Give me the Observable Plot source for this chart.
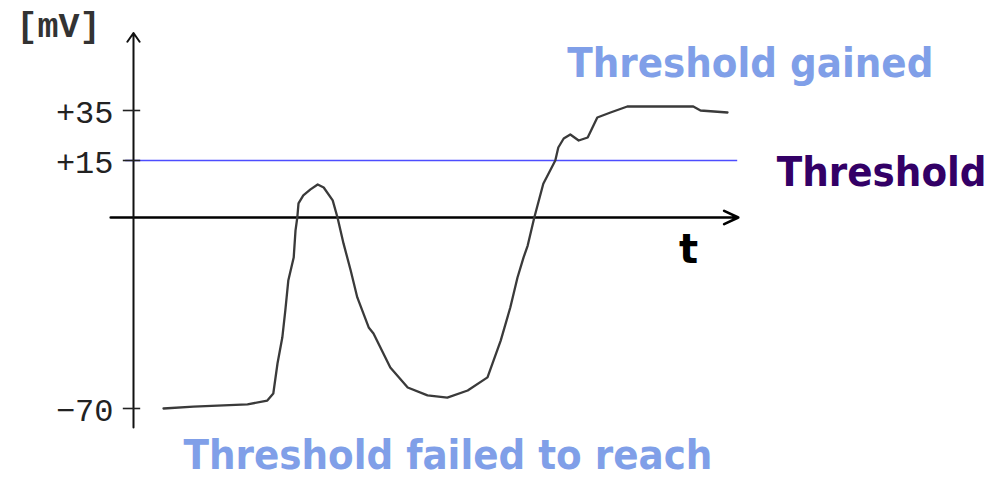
<!DOCTYPE html>
<html>
<head>
<meta charset="utf-8">
<script src="https://cdn.jsdelivr.net/npm/d3@7"></script>
<script src="https://cdn.jsdelivr.net/npm/@observablehq/plot@0.6"></script>
<style>
  html, body { margin: 0; padding: 0; background: #fff; }
  #chart svg { display: block; }
</style>
</head>
<body>
<div id="chart"></div>
<script>
// Membrane potential trace: time (arbitrary units) and voltage (mV)
const times = [5.0, 10.0, 19.0, 22.3, 23.3, 24.0, 24.8, 25.3, 25.8, 26.7, 27.0, 27.3, 27.5, 28.3, 29.5, 30.7, 31.7, 33.2, 34.0, 35.0, 36.2, 37.3, 39.2, 40.0, 42.8, 45.7, 49.0, 52.3, 55.7, 59.0, 61.2, 62.8, 64.0, 65.0, 65.7, 66.8, 68.3, 70.3, 70.8, 71.7, 72.8, 74.2, 75.7, 77.3, 79.5, 82.3, 93.3, 94.5, 99.0];
const volts = [-70, -69.3, -68.5, -67.1, -64.5, -53.5, -44.0, -34.1, -23.1, -14.7, -4.8, 0, 3.7, 5.8, 7.4, 8.7, 7.9, 4.5, 0, -9.5, -19.4, -29.3, -40.3, -42.5, -55.0, -62.3, -65.2, -66.0, -63.4, -58.6, -45.1, -33.0, -22.0, -14.7, -10.3, 0, 8.9, 15, 20.2, 23.8, 25.4, 23.0, 24.2, 32.2, 34.2, 36.6, 36.6, 35.0, 34.2];

// Axis ticks and labels
const yTicks = [35, 15, -70];
const yTickLabels = ["+35", "+15", "\u221270"];
const yUnit = "[mV]";
const tLabel = "t";

// Threshold
const thresholdValue = 15;
const thresholdLabel = "Threshold";

// Axes extents
const tAxisExtent = [-3.8, 100.8];
const vAxisExtent = [-77, 66];
const thresholdExtent = [-1.3, 100.7];

// Annotations
const annotations = [
  {t: 102.8, v: 53.6, text: "Threshold gained", color: "#809fe8"},
  {t: 124.7, v: 11.8, text: thresholdLabel, color: "#330066"},
  {t: 52.4, v: -87.3, text: "Threshold failed to reach", color: "#809fe8"}
];

const trace = times.map((t, i) => ({t, v: volts[i]}));
const boldFont = "'DejaVu Sans Condensed', 'DejaVu Sans', sans-serif";

const chart = Plot.plot({
  width: 989,
  height: 478,
  margin: 0,
  style: {background: "white", overflow: "visible"},
  x: {type: "linear", domain: [0, 100], range: [133, 733], axis: null},
  y: {type: "linear", domain: [-70, 0, 15, 35], range: [408, 217, 160, 110], axis: null},
  marks: [
    // threshold line
    Plot.ruleY([thresholdValue], {x1: thresholdExtent[0], x2: thresholdExtent[1], stroke: "#4d4dff", strokeWidth: 1.6}),
    // time axis with arrow
    Plot.arrow([0], {x1: tAxisExtent[0], x2: tAxisExtent[1], y1: 0, y2: 0, stroke: "#000", strokeWidth: 2.6, headLength: 9, headAngle: 50}),
    // voltage axis with arrow
    Plot.arrow([0], {x1: 0, x2: 0, y1: vAxisExtent[0], y2: vAxisExtent[1], stroke: "#111", strokeWidth: 2, headLength: 8, headAngle: 70}),
    // ticks
    Plot.ruleY(yTicks, {y: d => d, x1: -1.7, x2: 1.2, stroke: "#222", strokeWidth: 1.6}),
    // tick labels
    Plot.text(yTicks, {x: 0, y: d => d, text: (d, i) => yTickLabels[i], textAnchor: "end", dx: -20, dy: 2, fontSize: 32, fontFamily: "'Liberation Mono', monospace", fill: "#222"}),
    // unit label
    Plot.text([yUnit], {x: -5.5, y: 69, text: d => d, textAnchor: "end", fontSize: 35, fontWeight: "bold", fontFamily: "'Liberation Mono', monospace", fill: "#333"}),
    // the voltage trace
    Plot.line(trace, {x: "t", y: "v", stroke: "#3a3a3a", strokeWidth: 2.3, strokeLinejoin: "round"}),
    // t label
    Plot.text([tLabel], {x: 92.5, y: -12.1, text: d => d, fontSize: 40, fontWeight: "bold", fontFamily: "'DejaVu Sans', sans-serif", fill: "#000"}),
    // annotations
    Plot.text(annotations, {x: "t", y: "v", text: "text", fill: "color", textAnchor: "middle", fontSize: 41.5, fontWeight: "bold", fontFamily: boldFont})
  ]
});
document.getElementById("chart").append(chart);
</script>
</body>
</html>
